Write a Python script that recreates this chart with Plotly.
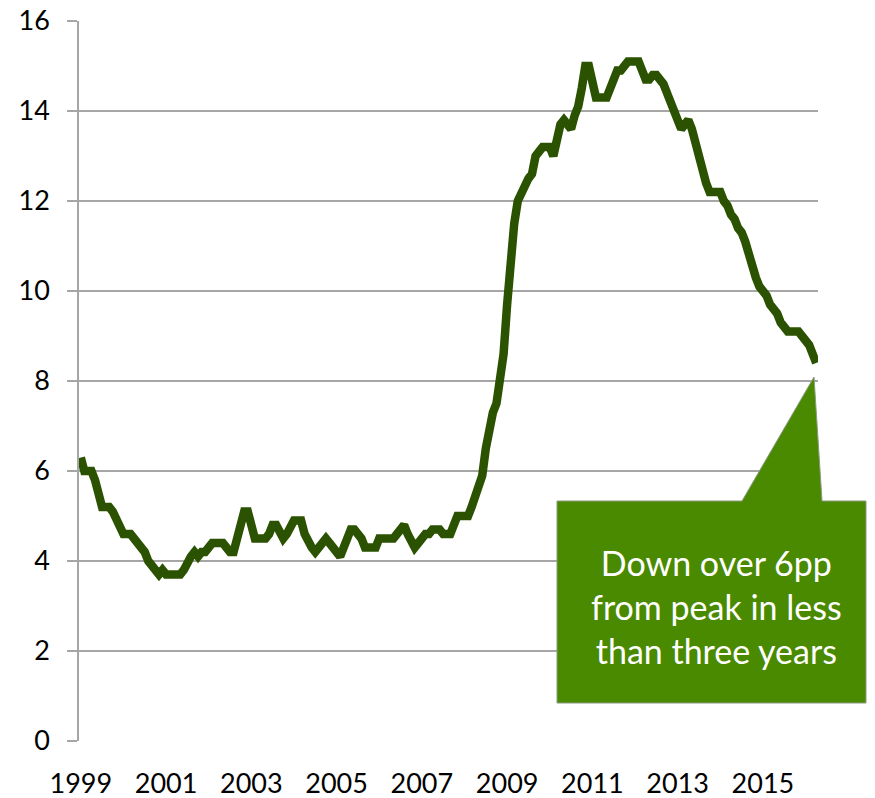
import plotly.graph_objects as go

# Monthly values, Jan 1999 - Apr 2016 (percent)
values = [
    6.3, 6.0, 6.0, 6.0, 5.8, 5.5, 5.2, 5.2, 5.2, 5.1, 4.9, 4.7,   # 1999
    4.6, 4.6, 4.6, 4.5, 4.4, 4.3, 4.2, 4.0, 3.9, 3.8, 3.7, 3.8,   # 2000
    3.7, 3.7, 3.7, 3.7, 3.7, 3.8, 4.0, 4.1, 4.2, 4.1, 4.2, 4.2,   # 2001
    4.3, 4.4, 4.4, 4.4, 4.4, 4.3, 4.2, 4.2, 4.5, 4.8, 5.1, 5.1,   # 2002
    4.7, 4.5, 4.5, 4.5, 4.5, 4.6, 4.8, 4.8, 4.6, 4.5, 4.6, 4.8,   # 2003
    4.9, 4.9, 4.9, 4.6, 4.4, 4.3, 4.2, 4.3, 4.4, 4.5, 4.4, 4.3,   # 2004
    4.2, 4.1, 4.3, 4.5, 4.7, 4.7, 4.6, 4.5, 4.3, 4.3, 4.3, 4.3,   # 2005
    4.5, 4.5, 4.5, 4.5, 4.5, 4.6, 4.7, 4.8, 4.6, 4.4, 4.3, 4.4,   # 2006
    4.5, 4.6, 4.6, 4.7, 4.7, 4.7, 4.6, 4.6, 4.6, 4.8, 5.0, 5.0,   # 2007
    5.0, 5.0, 5.2, 5.4, 5.7, 5.9, 6.5, 7.0, 7.3, 7.5, 8.0, 8.6,   # 2008
    9.7, 10.7, 11.5, 12.0, 12.2, 12.3, 12.5, 12.6, 13.0, 13.1, 13.2, 13.2,  # 2009
    13.2, 13.0, 13.3, 13.7, 13.8, 13.7, 13.6, 13.9, 14.1, 14.5, 15.0, 15.0,  # 2010
    14.5, 14.3, 14.3, 14.3, 14.3, 14.5, 14.7, 14.9, 14.9, 15.0, 15.1, 15.1,  # 2011
    15.1, 15.1, 14.9, 14.7, 14.7, 14.8, 14.8, 14.7, 14.6, 14.4, 14.2, 14.0,  # 2012
    13.7, 13.6, 13.7, 13.8, 13.6, 13.3, 12.9, 12.6, 12.4, 12.2, 12.2, 12.2,  # 2013
    12.2, 12.0, 11.9, 11.7, 11.6, 11.4, 11.3, 11.1, 10.8, 10.5, 10.3, 10.1,  # 2014
    10.0, 9.9, 9.7, 9.6, 9.5, 9.3, 9.2, 9.1, 9.1, 9.1, 9.1, 9.0,  # 2015
    8.9, 8.8, 8.6, 8.4,                                            # 2016
]
start_year = 1999
tick_years = [1999, 2001, 2003, 2005, 2007, 2009, 2011, 2013, 2015]
y_ticks = [0, 2, 4, 6, 8, 10, 12, 14, 16]
callout_text = "Down over 6pp<br>from peak in less<br>than three years"

x_idx = list(range(len(values)))
tick_pos = [(y - start_year) * 12 for y in tick_years]

# body margin is removed in the page, so figure pixels = page pixels
W, H = 875, 798
L, R, T, B = 79, 818, 21, 741   # plot area in page pixels
fig = go.Figure()
fig.add_trace(go.Scatter(
    x=x_idx, y=values, mode="lines",
    line=dict(color="#2b5200", width=8.5),
    hoverinfo="skip", showlegend=False,
))

def px(x):
    return (x - L) / (R - L)

def py(y):
    return (B - y) / (B - T)

# Callout: box + pointer triangle
path = (
    f"M {px(557)} {py(501)} L {px(742)} {py(501)} L {px(814)} {py(377)} "
    f"L {px(822)} {py(501)} L {px(866)} {py(501)} L {px(866)} {py(703)} "
    f"L {px(557)} {py(703)} Z"
)
fig.add_shape(type="path", path=path, xref="paper", yref="paper",
              fillcolor="#4a8a00", line=dict(color="#8c9a80", width=1), layer="above")

fig.add_annotation(
    x=px(716), y=py(606), xref="paper", yref="paper",
    text=callout_text, showarrow=False, align="center",
    font=dict(family="Lato", size=34, color="white"),
    xanchor="center", yanchor="middle",
)

fig.update_layout(
    width=W, height=H,
    margin=dict(l=L, r=W - R, t=T, b=H - B, autoexpand=False),
    paper_bgcolor="white", plot_bgcolor="white",
    font=dict(family="Lato", size=27, color="black"),
    showlegend=False,
)
fig.update_xaxes(
    range=[-0.5, len(values) - 0.5], automargin=False,
    tickmode="array", tickvals=tick_pos, ticktext=[str(y) for y in tick_years],
    showgrid=False, zeroline=False, showline=False,
    ticks="", ticklabelstandoff=24, ticklabeloverflow="allow",
    tickfont=dict(family="Lato", size=27, color="black"),
)
fig.update_yaxes(
    range=[0, 16], tickmode="array", tickvals=y_ticks, automargin=False,
    showgrid=True, gridcolor="#a6a6a6", gridwidth=1.5,
    zeroline=False, showline=True, linecolor="#a6a6a6", linewidth=1.5,
    ticks="outside", ticklen=10, tickcolor="#a6a6a6", tickwidth=1.5,
    ticklabelstandoff=12, ticklabeloverflow="allow",
    tickfont=dict(family="Lato", size=27, color="black"),
)

fig.write_html("out.html",
               config={"displayModeBar": False},
               post_script="document.body.style.margin='0';document.body.style.overflow='hidden';")
